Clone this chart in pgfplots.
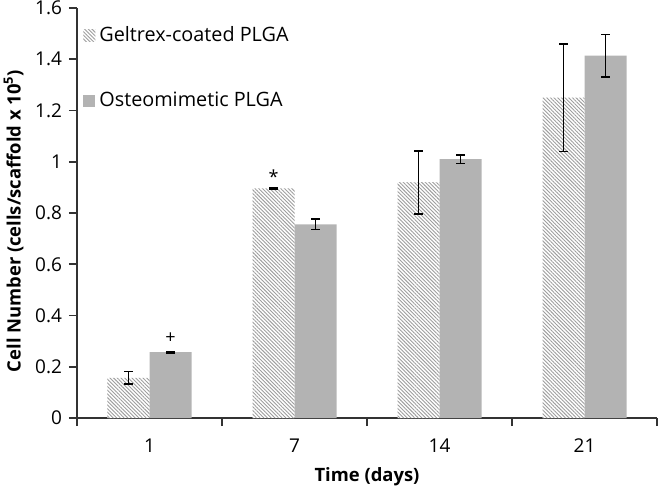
\documentclass[border=0pt]{standalone}
\usepackage{pgfplots}
\pgfplotsset{compat=1.18}
\usepackage{fontspec}
\setmainfont{Open Sans}
\usetikzlibrary{patterns.meta}
\definecolor{osteo}{RGB}{179,179,179}
\begin{document}
\begin{tikzpicture}
\begin{axis}[
  scale only axis,
  width=290pt, height=205pt,
  xmin=-0.5, xmax=3.5,
  ymin=0, ymax=1.6,
  axis lines*=left,
  axis line style={line width=0.8pt, black!80},
  ybar=0pt, bar width=21pt,
  xtick={0,1,2,3},
  xticklabels={1,7,14,21},
  minor xtick={-0.5,0.5,1.5,2.5,3.5},
  major x tick style={draw=none},
  minor x tick style={line width=0.8pt, black!80},
  minor tick length=4pt,
  ytick={0,0.2,...,1.6},
  yticklabels={0,0.2,0.4,0.6,0.8,1,1.2,1.4,1.6},
  major y tick style={line width=0.8pt, black!80},
  major tick length=4pt,
  tick align=outside,
  ticklabel style={font=\fontsize{9.5}{11}\selectfont},
  xticklabel style={yshift=-3pt},
  /pgf/number format/assume math mode=true,
  xlabel={\textbf{Time (days)}},
  ylabel={\textbf{Cell Number (cells/scaffold x 10\textsuperscript{5})}},
  label style={font=\fontsize{9.2}{11}\selectfont},
  xlabel style={yshift=-0.5pt},
  ylabel style={yshift=-1pt, xshift=-4pt},
  legend style={at={(0.0,1.0)}, anchor=north west, draw=none, fill=none,
    font=\fontsize{9.9}{11}\selectfont, row sep=20pt, xshift=0pt, yshift=-5pt},
  legend cell align=left,
  legend image code/.code={\fill[#1] (0pt,-3pt) rectangle (6pt,3pt);},
  error bars/error bar style={line width=0.8pt, black},
  error bars/error mark options={rotate=90, mark size=2.2pt, line width=0.8pt, black},
  clip=false,
]
\addplot[draw=none, fill=white, postaction={pattern={Lines[angle=-45,distance=1.3pt,line width=0.45pt]}, pattern color=black!38},
  error bars/.cd, y dir=both, y explicit]
  coordinates {(0,0.157) +- (0,0.024) (1,0.896) +- (0,0.003) (2,0.92) +- (0,0.123) (3,1.25) +- (0,0.21)};
\addplot[draw=none, fill=osteo,
  error bars/.cd, y dir=both, y explicit]
  coordinates {(0,0.257) +- (0,0.003) (1,0.756) +- (0,0.02) (2,1.01) +- (0,0.017) (3,1.414) +- (0,0.083)};
\legend{Geltrex-coated PLGA, Osteomimetic PLGA}
\node[font=\fontsize{9}{10}\selectfont] at (axis cs:0.145,0.31) {+};
\node[font=\fontsize{9}{10}\selectfont] at (axis cs:0.855,0.94) {*};
\coordinate (sw) at (rel axis cs:0,0);
\coordinate (ne) at (rel axis cs:1,1);
\end{axis}
\pgfresetboundingbox
\path[use as bounding box] ([xshift=-38.5pt,yshift=-33.5pt]sw) rectangle ([xshift=1.5pt,yshift=4pt]ne);
\end{tikzpicture}
\end{document}
